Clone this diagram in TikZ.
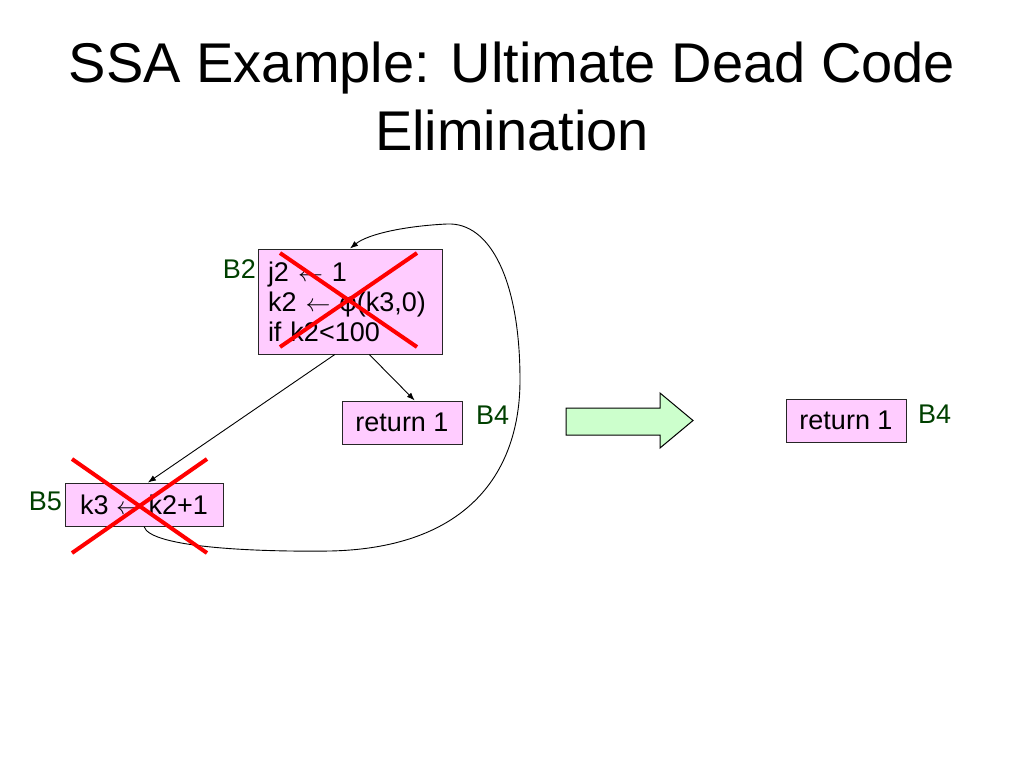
\documentclass[tikz,border=0pt]{standalone}
\usepackage{fontspec}
\setmainfont{Liberation Sans}
\usepackage{tikz}
\usetikzlibrary{arrows.meta}

\definecolor{blockpink}{RGB}{255,204,255}
\definecolor{labelgreen}{RGB}{0,64,0}
\definecolor{arrowgreen}{RGB}{204,255,204}

\newcommand{\getsarrow}{\(\leftarrow\)}

\tikzset{
	block/.style={draw=black!85, fill=blockpink, line width=1pt, inner sep=0pt,
		font=\fontsize{27}{30}\selectfont},
	blocklabel/.style={text=labelgreen, inner sep=0pt, font=\fontsize{27}{30}\selectfont},
	crossout/.style={draw=red, line width=4pt},
	edge/.style={->, line width=0.9pt},
	>={Latex[length=8pt,width=6pt]}
}

\begin{document}
\begin{tikzpicture}[x=1pt, y=-1pt]
	\useasboundingbox (0,0) rectangle (1024,768);

	% Drawing the title
	\node[anchor=base, inner sep=0pt, font=\fontsize{56}{68}\selectfont] (title1) at (512,82) {SSA Example: Ultimate Dead Code};
	\node[anchor=base, inner sep=0pt, font=\fontsize{56}{68}\selectfont] (title2) at (512,150) {Elimination};

	% Drawing the blocks
	\node[block, minimum width=184, minimum height=105, text width=164, inner xsep=10, align=left] (B2) at (350,301.5)
		{j2 \getsarrow{} 1\\k2 \getsarrow{} φ(k3,0)\\if k2<100};
	\node[block, minimum width=120, minimum height=43] (B4) at (402,422.5) {return 1};
	\node[block, minimum width=158, minimum height=43] (B5) at (144,504.5) {k3 \getsarrow{} k2+1};
	\node[block, minimum width=120, minimum height=43] (B4r) at (846,420.5) {return 1};

	% Drawing the block labels
	\node[blocklabel, anchor=base east] (labB2) at (256,278) {B2};
	\node[blocklabel, anchor=base west] (labB4) at (476,424) {B4};
	\node[blocklabel, anchor=base east] (labB5) at (62,510) {B5};
	\node[blocklabel, anchor=base west] (labB4r) at (918,423) {B4};

	% Drawing the edges
	\draw[edge] (B2.-70) -- (B4.60);
	\draw[edge] (B2.-106) -- (B5.80);
	\draw[edge] (B5.south) .. controls (150,548) and (260,552) .. (330,551)
		.. controls (470,548) and (520,470) .. (520,380)
		.. controls (520,280) and (490,222) .. (447,224)
		.. controls (405,226) and (368,234) .. (B2.north);

	% Drawing the crosses
	\draw[crossout] (280,253) -- (417,347);
	\draw[crossout] (417,253) -- (280,347);
	\draw[crossout] (72,459) -- (207,553);
	\draw[crossout] (207,459) -- (72,553);

	% Drawing the big arrow
	\draw[fill=arrowgreen, line width=1pt] (566,408) -- (660,408) -- (660,393) -- (693,420.5)
		-- (660,448) -- (660,435) -- (566,435) -- cycle;
\end{tikzpicture}
\end{document}
